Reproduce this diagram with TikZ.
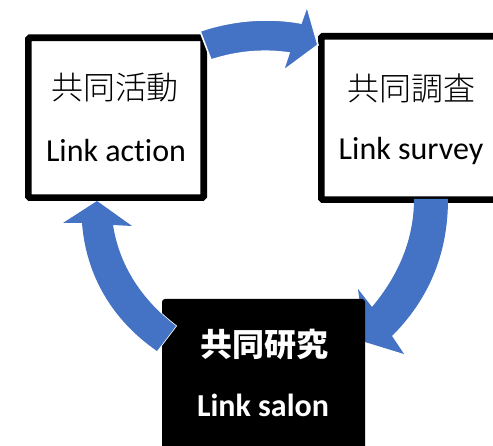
\documentclass[tikz,border=0pt]{standalone}
\usepackage{fontspec}
\setmainfont[Ligatures=NoCommon]{Carlito}
\newfontfamily\cjk{Noto Sans CJK JP}
\newfontfamily\cjklight{Noto Sans CJK JP Light}
\definecolor{arrowblue}{HTML}{4472C4}
\tikzset{
  whitebox/.style={draw=black,fill=white,line width=6.6pt,rounded corners=1.5pt,anchor=north west,inner sep=0pt},
  blackbox/.style={draw=none,fill=black,rounded corners=3pt},
  label/.style={font=\fontsize{32}{36}\selectfont,inner sep=0pt,anchor=center},
  jp/.style={font=\fontsize{32}{36}\selectfont\cjklight,inner sep=0pt,anchor=center},
  blockarrow/.style={fill=arrowblue,draw=none},
  outlined/.style={fill=arrowblue,draw=white,line width=1.6pt,line join=miter}
}
\begin{document}
\begin{tikzpicture}[x=1pt,y=-1pt]
\useasboundingbox (0,0) rectangle (493,446);
% boxes
\node[whitebox,minimum width=175.4pt,minimum height=159.9pt] (action) at (25,34.5) {};
\node[whitebox,minimum width=185pt,minimum height=163.4pt] (survey) at (318,33) {};
% arrow survey -> salon (behind the black box)
\path[blockarrow] (414,199) .. controls (414,240) and (398,276) .. (372,307)
  -- (358,289) -- (365,342) -- (404,354) -- (392,336)
  .. controls (428,300) and (448,255) .. (448,199) -- cycle;
% black box
\path[blackbox] (162,299) rectangle (365,450);
% arrow action -> survey
\path[outlined] (200,31) .. controls (232,20) and (268,17) .. (301,23)
  -- (307,6) -- (318,45) -- (283,71) -- (289,53)
  .. controls (262,49) and (236,52) .. (211,60) -- cycle;
% arrow salon -> action
\begin{scope}
\clip (100,290) rectangle (190,360);
\path[outlined] (176,326) .. controls (146,303) and (120,270) .. (113,225)
  -- (132,226) -- (97,201) -- (63,223) -- (82,223)
  .. controls (86,275) and (112,320) .. (157,351) -- cycle;
\end{scope}
\path[blockarrow] (176,326) .. controls (146,303) and (120,270) .. (113,225)
  -- (132,226) -- (97,201) -- (63,223) -- (82,223)
  .. controls (86,275) and (112,320) .. (157,351) -- cycle;
% texts
\node[jp] (t1) at (115,88) {共同活動};
\node[label] (t2) at (116,151) {Link action};
\node[jp] (t3) at (411,88) {共同調査};
\node[label] (t4) at (411,151) {Link survey};
\node[jp,text=white,font=\fontsize{32}{36}\selectfont\cjk\bfseries] (t5) at (264,344) {共同研究};
\node[label,text=white,font=\fontsize{32}{36}\selectfont\bfseries] (t6) at (263,405) {Link salon};
\end{tikzpicture}
\end{document}
